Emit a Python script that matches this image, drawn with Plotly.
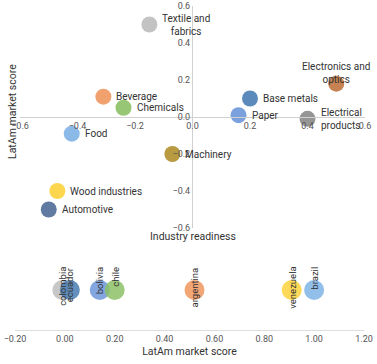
import plotly.graph_objects as go

# ---- Industry quadrant data ----
industries = ["Textile and<br>fabrics", "Beverage", "Chemicals", "Food", "Machinery",
              "Wood industries", "Automotive", "Base metals", "Paper",
              "Electrical<br>products", "Electronics and<br>optics"]
industry_readiness = [-0.15, -0.31, -0.24, -0.42, -0.07, -0.47, -0.50, 0.20, 0.16, 0.40, 0.50]
latam_market_score = [0.50, 0.11, 0.05, -0.09, -0.20, -0.40, -0.50, 0.10, 0.01, -0.01, 0.18]
industry_colors = ["#bdbdbd", "#f0975e", "#8cc166", "#7fb3e6", "#b08f2c",
                   "#fdd23c", "#4f6b98", "#4a7db2", "#6d96da", "#8a8a8a", "#c0743f"]

# ---- Country strip data ----
countries = ["colombia", "ecuador", "bolivia", "chile", "argentina", "venezuela", "brazil"]
country_score = [-0.01, 0.02, 0.14, 0.20, 0.52, 0.91, 1.00]
country_colors = ["#bdbdbd", "#4a7db2", "#6d96da", "#8cc166", "#f0975e", "#fdd23c", "#7fb3e6"]

quad_ticks = [-0.6, -0.4, -0.2, 0.0, 0.2, 0.4, 0.6]
strip_ticks = [-0.2, 0.0, 0.2, 0.4, 0.6, 0.8, 1.0, 1.2]

W, H = 377, 364
FONT = "Roboto"
LINE = "#d0d0d0"
TICK = dict(family=FONT, size=9, color="#555")

fig = go.Figure()
fig.add_trace(go.Scatter(
    x=industry_readiness, y=latam_market_score, mode="markers",
    marker=dict(size=16, color=industry_colors, opacity=0.9, line=dict(width=0)),
    xaxis="x", yaxis="y", hoverinfo="skip", showlegend=False))
fig.add_trace(go.Scatter(
    x=country_score, y=[0] * len(countries), mode="markers",
    marker=dict(size=20, color=country_colors, opacity=0.85, line=dict(width=0)),
    xaxis="x2", yaxis="y2", hoverinfo="skip", showlegend=False))

annotations = []
special = {
    "Textile and<br>fabrics": dict(align="center"),
    "Electronics and<br>optics": dict(xanchor="center", yanchor="bottom", xshift=0, yshift=-3, align="center"),
}
for name, xv, yv in zip(industries, industry_readiness, latam_market_score):
    a = dict(x=xv, y=yv, xref="x", yref="y", text=name, showarrow=False,
             xanchor="left", yanchor="middle", xshift=11, align="left",
             font=dict(family=FONT, size=10, color="#333"))
    a.update(special.get(name, {}))
    annotations.append(a)

for name, xv in zip(countries, country_score):
    annotations.append(dict(x=xv, y=0, xref="x2", yref="y2", text=name, showarrow=False,
                            textangle=-90, xanchor="center", yanchor="top", yshift=25,
                            font=dict(family=FONT, size=9.5, color="#333")))

annotations.append(dict(x=0, y=1 - 236 / H, xref="x", yref="paper", text="Industry readiness",
                        showarrow=False, xanchor="center", yanchor="middle",
                        font=dict(family=FONT, size=10.5, color="#333")))
annotations.append(dict(x=12 / W, y=1 - 112 / H, xref="paper", yref="paper", text="LatAm market score",
                        showarrow=False, textangle=-90, xanchor="center", yanchor="middle",
                        font=dict(family=FONT, size=10.5, color="#333")))

fig.update_layout(
    width=W, height=H, margin=dict(l=0, r=0, t=0, b=0, autoexpand=False),
    paper_bgcolor="white", plot_bgcolor="white",
    font=dict(family=FONT, color="#333"),
    xaxis=dict(domain=[20 / W, 365 / W], range=[-0.6, 0.6], anchor="free", position=1 - 117 / H,
               tickvals=quad_ticks, tickformat=".1f", showline=True, linecolor=LINE, linewidth=1,
               showgrid=False, zeroline=False, ticks="", tickfont=TICK, fixedrange=True,
               automargin=False),
    yaxis=dict(domain=[1 - 228 / H, 1 - 6 / H], range=[-0.6, 0.6], anchor="free", position=192 / W,
               tickvals=quad_ticks, tickformat=".1f", showline=True, linecolor=LINE, linewidth=1,
               showgrid=False, zeroline=False, ticks="", tickfont=TICK, fixedrange=True,
               automargin=False),
    xaxis2=dict(domain=[15 / W, 364 / W], range=[-0.2, 1.2], anchor="y2",
                tickvals=strip_ticks, tickformat=".2f", showline=True, linecolor="#dddddd",
                showgrid=False, zeroline=False, ticks="", tickfont=TICK,
                title=dict(text="LatAm market score", font=dict(family=FONT, size=10.5, color="#333"),
                           standoff=4), fixedrange=True, automargin=False),
    yaxis2=dict(domain=[1 - 330 / H, 1 - 250 / H], range=[-1, 1], visible=False, fixedrange=True,
                automargin=False),
    annotations=annotations,
)

fig.write_html("out.html", config={"displayModeBar": False},
               post_script="document.body.style.margin='0';document.body.style.overflow='hidden';")
